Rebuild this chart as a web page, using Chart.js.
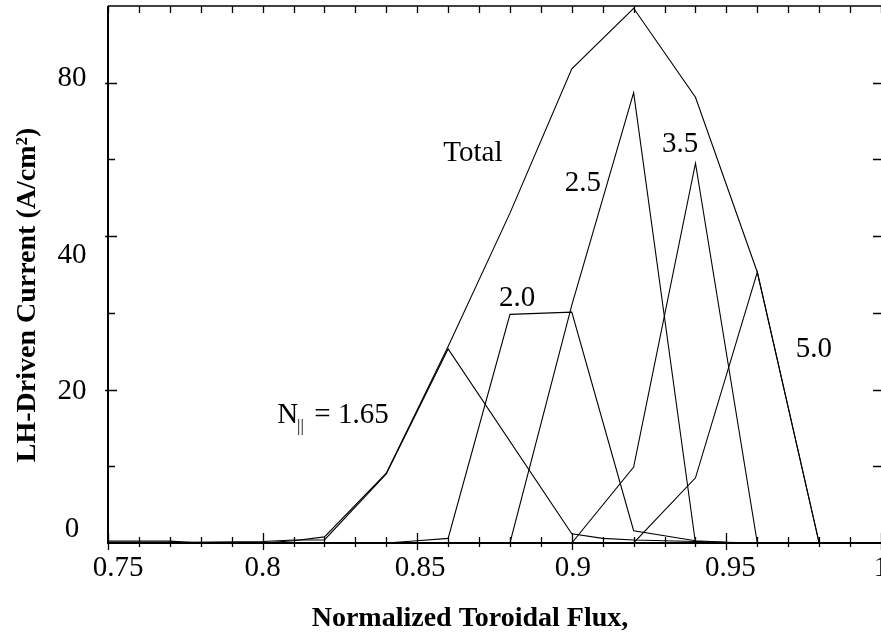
<!DOCTYPE html>
<html>
<head>
<meta charset="utf-8">
<script src="https://cdn.jsdelivr.net/npm/chart.js"></script>
<style>
  html, body { margin: 0; padding: 0; background: #fff; }
  #wrap { width: 881px; height: 633px; }
</style>
</head>
<body>
<div id="wrap"><canvas id="lhChart" width="881" height="633"></canvas></div>
<script>
// LH-driven current profiles per N|| and total, vs normalized toroidal flux
const flux = [0.75, 0.76, 0.77, 0.78, 0.79, 0.80, 0.81, 0.82, 0.83, 0.84, 0.85, 0.86, 0.87,
              0.88, 0.89, 0.90, 0.91, 0.92, 0.93, 0.94, 0.95, 0.96, 0.97, 0.98, 0.99, 1.00];

// null = no vertex there (line joins across)
const total = [0.25, null, 0.25, 0, null, 0, 0.3, 0.8, null, 9.1, null, 25.6, null,
               43, null, 61.8, null, 69.7, null, 58.1, null, 35.3, null, 0, null, 0];
const n165  = [0, null, null, null, null, 0.2, 0.4, 0.4, null, 9.0, null, 25.3, null,
               null, null, 1.2, 0.6, 0.4, null, 0.2, null, 0, null, 0, null, 0];
const n20   = [0, null, null, null, null, null, null, null, null, 0, 0.3, 0.6, null,
               29.8, null, 30.1, null, 1.6, null, 0.3, 0.1, 0, null, 0, null, 0];
const n25   = [0, null, null, null, null, null, null, null, null, null, null, 0, null,
               0, null, 31, null, 58.7, null, 0, null, 0, null, 0, null, 0];
const n35   = [0, null, null, null, null, null, null, null, null, null, null, null, null,
               null, null, 0, null, 9.9, null, 49.5, null, 0, null, 0, null, 0];
const n50   = [0, null, null, null, null, null, null, null, null, null, null, null, null,
               null, null, null, null, 0, null, 8.5, null, 35.3, null, 0, null, 0];

const xTickValues = [0.75, 0.8, 0.85, 0.9, 0.95, 1.0];
const xTickLabels = ['0.75', '0.8', '0.85', '0.9', '0.95', '1'];
const yTickValues = [0, 20, 40, 60];
const yTickLabels = ['0', '20', '40', '80'];

function pts(vals) {
  return vals.map((v, i) => ({ x: flux[i], y: v }));
}

const serif = '"Liberation Serif", "Times New Roman", serif';

// inline labels, placed in data units
const curveLabels = [
  { text: 'Total', x: 0.868, y: 50.8 },
  { text: '2.5', x: 0.9036, y: 46.9 },
  { text: '3.5', x: 0.935, y: 52.0 },
  { text: '2.0', x: 0.8823, y: 31.9 },
  { text: '5.0', x: 0.9783, y: 25.2 }
];

const axesPlugin = {
  id: 'axesPlugin',
  afterDatasetsDraw(chart) {
    const { ctx, chartArea: a, scales: { x, y } } = chart;
    ctx.save();
    ctx.strokeStyle = '#000';
    ctx.fillStyle = '#000';

    // frame
    ctx.lineWidth = 2;
    ctx.beginPath();
    ctx.moveTo(a.left, a.top);
    ctx.lineTo(a.left, a.bottom);
    ctx.lineTo(a.right, a.bottom);
    ctx.stroke();
    ctx.lineWidth = 1.5;
    ctx.beginPath();
    ctx.moveTo(a.left, a.top);
    ctx.lineTo(a.right, a.top);
    ctx.stroke();

    // x ticks, every 0.01
    ctx.lineWidth = 1.3;
    for (let v = 75; v <= 100; v++) {
      const px = Math.round(x.getPixelForValue(v / 100)) + 0.5;
      const major = v % 5 === 0;
      ctx.beginPath();
      ctx.moveTo(px, a.bottom - (major ? 10 : 6));
      ctx.lineTo(px, a.bottom + (major ? 7 : 4));
      ctx.moveTo(px, a.top);
      ctx.lineTo(px, a.top + 7);
      ctx.stroke();
    }
    // y ticks, every 10
    for (let v = 10; v <= 60; v += 10) {
      const py = Math.round(y.getPixelForValue(v)) + 0.5;
      const major = v % 20 === 0;
      ctx.beginPath();
      ctx.moveTo(a.left - (major ? 3 : 0), py);
      ctx.lineTo(a.left + (major ? 9 : 7), py);
      ctx.moveTo(a.right - 8, py);
      ctx.lineTo(a.right, py);
      ctx.stroke();
    }

    // tick labels
    ctx.font = '29px ' + serif;
    ctx.textAlign = 'center';
    ctx.textBaseline = 'middle';
    const xNudge = [10, 0, 3, 1, 4, 0];
    xTickValues.forEach((v, i) => {
      ctx.fillText(xTickLabels[i], x.getPixelForValue(v) + xNudge[i], a.bottom + 25);
    });
    const yNudge = [-14, 2, 19, -4];
    yTickValues.forEach((v, i) => {
      ctx.fillText(yTickLabels[i], 72, y.getPixelForValue(v) + yNudge[i]);
    });

    // axis titles
    ctx.font = 'bold 28px ' + serif;
    ctx.textBaseline = 'alphabetic';
    ctx.fillText('Normalized Toroidal Flux,', 470, 626);
    ctx.save();
    ctx.translate(35, 295);
    ctx.rotate(-Math.PI / 2);
    ctx.fillText('LH-Driven Current (A/cm\u00B2)', 0, 0);
    ctx.restore();

    // curve labels
    ctx.font = '29px ' + serif;
    ctx.textBaseline = 'middle';
    curveLabels.forEach(l => {
      ctx.fillText(l.text, x.getPixelForValue(l.x), y.getPixelForValue(l.y));
    });

    // N|| = 1.65
    ctx.textAlign = 'left';
    ctx.textBaseline = 'alphabetic';
    const nx = x.getPixelForValue(0.8047);
    const ny = y.getPixelForValue(15.6);
    ctx.fillText('N', nx, ny);
    const nw = ctx.measureText('N').width;
    ctx.font = '17px ' + serif;
    ctx.fillText('||', nx + nw - 1, ny + 8);
    ctx.font = '29px ' + serif;
    ctx.fillText(' = 1.65', nx + nw + 9, ny);

    ctx.restore();
  }
};

const lineStyle = {
  borderColor: '#000',
  borderWidth: 1.1,
  pointRadius: 0,
  tension: 0,
  spanGaps: true,
  clip: false,
  fill: false
};

new Chart(document.getElementById('lhChart').getContext('2d'), {
  type: 'line',
  data: {
    datasets: [
      { label: 'Total', data: pts(total), ...lineStyle },
      { label: 'N|| = 1.65', data: pts(n165), ...lineStyle },
      { label: '2.0', data: pts(n20), ...lineStyle },
      { label: '2.5', data: pts(n25), ...lineStyle },
      { label: '3.5', data: pts(n35), ...lineStyle },
      { label: '5.0', data: pts(n50), ...lineStyle }
    ]
  },
  options: {
    responsive: false,
    animation: false,
    layout: { padding: { left: 108, top: 6, right: 0, bottom: 90 } },
    scales: {
      x: { type: 'linear', min: 0.75, max: 1.0, display: false },
      y: { min: 0, max: 70, display: false }
    },
    plugins: {
      legend: { display: false },
      tooltip: { enabled: false }
    }
  },
  plugins: [axesPlugin]
});
</script>
</body>
</html>
